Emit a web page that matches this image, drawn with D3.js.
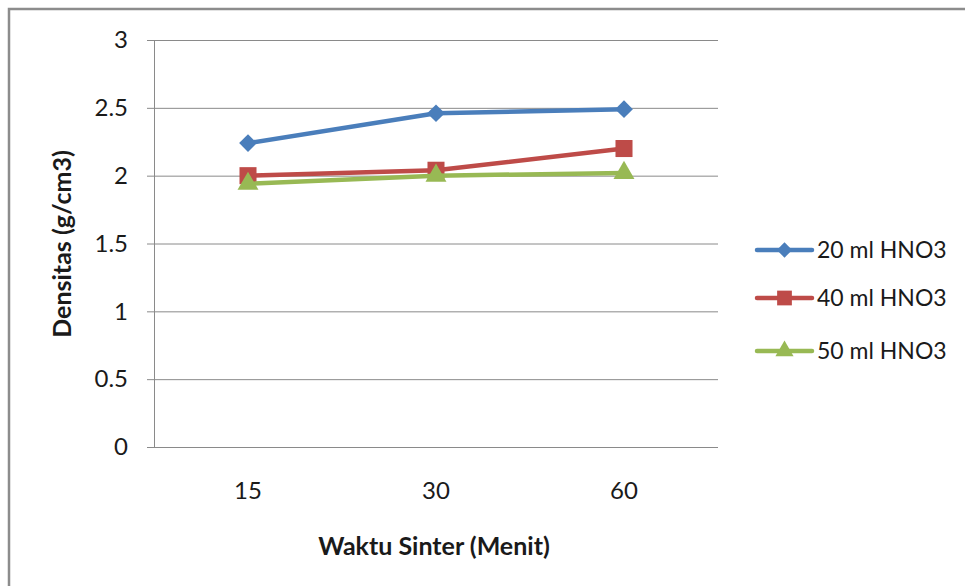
<!DOCTYPE html>
<html>
<head>
<meta charset="utf-8">
<script src="https://cdn.jsdelivr.net/npm/d3@7"></script>
<style>
  html, body { margin: 0; padding: 0; background: #fff; }
  svg text { font-family: Lato, "Open Sans", sans-serif; fill: #1a1a1a; }
</style>
</head>
<body>
<svg id="chart" width="965" height="586"></svg>
<script>
// Sintering time (minutes) on the x axis
const categories = ["15", "30", "60"];
// Density (g/cm3) per HNO3 volume
const seriesNames = ["20 ml HNO3", "40 ml HNO3", "50 ml HNO3"];
const values20 = [2.24, 2.46, 2.49];
const values40 = [2.00, 2.04, 2.20];
const values50 = [1.94, 2.00, 2.02];
const yTicks = [0, 0.5, 1, 1.5, 2, 2.5, 3];

const colors = ["#4a7ebb", "#be4b48", "#98b954"];
const markers = [d3.symbolDiamond2, d3.symbolSquare, d3.symbolTriangle];
const markerSizes = [200, 290, 190];

const series = seriesNames.map((name, i) => ({
  name, values: [values20, values40, values50][i], color: colors[i],
  marker: markers[i], size: markerSizes[i]
}));

const svg = d3.select("#chart");

// outer frame
svg.append("rect")
  .attr("x", 9).attr("y", 9).attr("width", 980).attr("height", 600)
  .attr("fill", "#fff").attr("stroke", "#8c8c8c").attr("stroke-width", 2.5);

const plot = { left: 154, right: 718, top: 40, bottom: 447 };

const x = d3.scaleBand().domain(categories).range([plot.left, plot.right]);
const y = d3.scaleLinear().domain([0, 3]).range([plot.bottom, plot.top]);

// horizontal gridlines with outward tick stubs
svg.append("g")
  .attr("transform", `translate(${plot.left},0)`)
  .call(d3.axisLeft(y).tickValues(yTicks).tickSize(-(plot.right - plot.left)).tickFormat(""))
  .call(g => g.select(".domain").remove())
  .call(g => g.selectAll("line").attr("stroke", "#8a8a8a").attr("stroke-width", 1).attr("x1", -7));

// y axis line and labels
const yAxis = svg.append("g")
  .attr("transform", `translate(${plot.left},0)`)
  .call(d3.axisLeft(y).tickValues(yTicks).tickSize(0).tickPadding(26).tickFormat(d3.format("")));
yAxis.select(".domain").attr("stroke", "#8a8a8a");
yAxis.selectAll("text").attr("font-size", 24).attr("font-family", "Lato, sans-serif").attr("fill", "#1a1a1a");

// x axis labels
const xAxis = svg.append("g")
  .attr("transform", `translate(0,${plot.bottom})`)
  .call(d3.axisBottom(x).tickSize(0).tickPadding(35));
xAxis.select(".domain").remove();
xAxis.selectAll("text").attr("font-size", 24).attr("font-family", "Lato, sans-serif").attr("fill", "#1a1a1a");

// axis titles
svg.append("text")
  .attr("x", 434).attr("y", 555)
  .attr("text-anchor", "middle").attr("font-size", 25).attr("font-weight", "bold")
  .text("Waktu Sinter (Menit)");
svg.append("text")
  .attr("transform", `translate(71,244) rotate(-90)`)
  .attr("text-anchor", "middle").attr("font-size", 25).attr("font-weight", "bold")
  .text("Densitas (g/cm3)");

const cx = c => x(c) + x.bandwidth() / 2;
const line = d3.line().x((d, i) => cx(categories[i])).y(d => y(d));

series.forEach(s => {
  svg.append("path")
    .attr("d", line(s.values))
    .attr("fill", "none").attr("stroke", s.color).attr("stroke-width", 4.5)
    .attr("stroke-linejoin", "round").attr("stroke-linecap", "round");
  svg.append("g").selectAll("path")
    .data(s.values)
    .join("path")
    .attr("d", d3.symbol(s.marker, s.size))
    .attr("transform", (d, i) => `translate(${cx(categories[i])},${y(d)})`)
    .attr("fill", s.color);
});

// legend
const legend = svg.append("g");
const legendY = [250, 298, 351];
series.forEach((s, i) => {
  const g = legend.append("g").attr("transform", `translate(757,${legendY[i]})`);
  g.append("line").attr("x1", 0).attr("x2", 55).attr("stroke", s.color)
    .attr("stroke-width", 4.5).attr("stroke-linecap", "round");
  g.append("path").attr("d", d3.symbol(s.marker, s.size * 0.75)).attr("transform", "translate(27.5,0)")
    .attr("fill", s.color);
  g.append("text").attr("x", 60).attr("dy", "0.35em").attr("font-size", 23).text(s.name);
});
</script>
</body>
</html>
